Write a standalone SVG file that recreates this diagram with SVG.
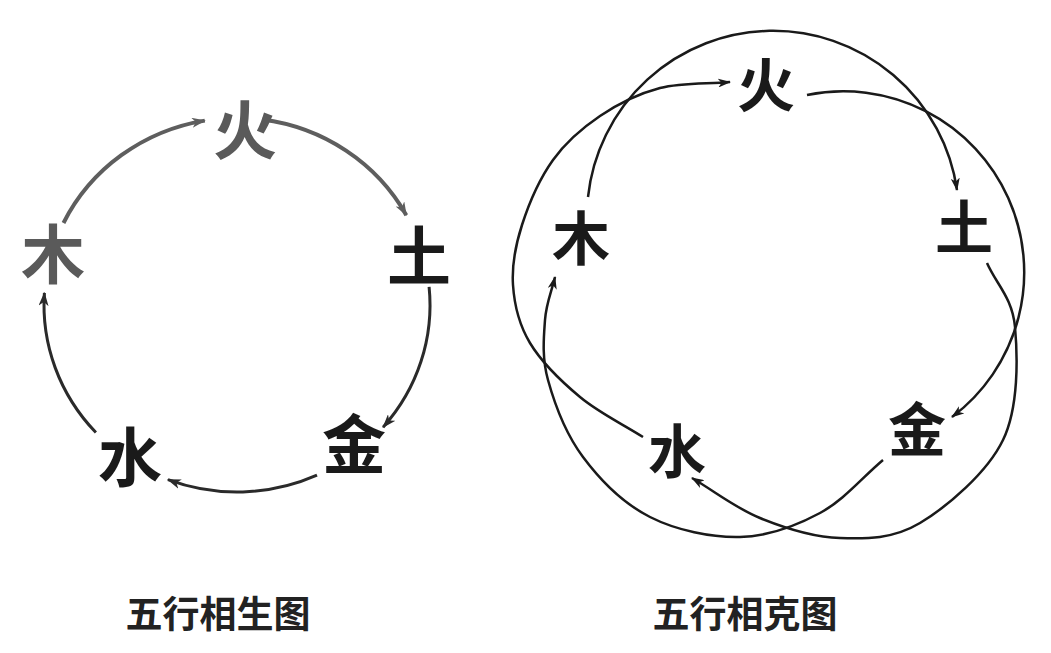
<svg xmlns="http://www.w3.org/2000/svg" width="1051" height="653" viewBox="0 0 1051 653">
<style>
.lbl{font-family:"Noto Sans CJK SC","Noto Sans CJK JP",sans-serif;font-weight:700;text-anchor:middle}
.big{font-size:64px}
.med{font-size:58px}
.title{font-family:"Noto Sans CJK SC","Noto Sans CJK JP",sans-serif;font-weight:700;font-size:37px;text-anchor:middle;fill:#222}
.gray{fill:#5a5a5a}
.dark{fill:#1a1a1a}
.c{fill:none;stroke-linecap:butt}
.cg{stroke:#5e5e5e;stroke-width:4}
.cd{stroke:#2a2a2a;stroke-width:3}
.cr{stroke:#1a1a1a;stroke-width:2.5}
</style>
<defs>
<marker id="ag" markerUnits="userSpaceOnUse" viewBox="0 0 14 10" refX="13" refY="5" markerWidth="14" markerHeight="10" orient="auto"><path d="M0,0 L14,5 L0,10 L4,5 z" fill="#5e5e5e"/></marker>
<marker id="ad" markerUnits="userSpaceOnUse" viewBox="0 0 14 10" refX="13" refY="5" markerWidth="14" markerHeight="10" orient="auto"><path d="M0,0 L14,5 L0,10 L4,5 z" fill="#2a2a2a"/></marker>
<marker id="ar" markerUnits="userSpaceOnUse" viewBox="0 0 13 9" refX="12" refY="4.5" markerWidth="13" markerHeight="9" orient="auto"><path d="M0,0 L13,4.5 L0,9 L3.5,4.5 z" fill="#1a1a1a"/></marker>
</defs>
<rect width="1051" height="653" fill="#ffffff"/>

<g id="connectors">
  <!-- 五行相生 -->
  <path id="sheng-mu-huo" class="c cg" marker-end="url(#ag)" d="M63.5,223 A193,187 0 0 1 204.8,120.6"/>
  <path id="sheng-huo-tu" class="c cg" marker-end="url(#ag)" d="M262.2,119.6 A193,187 0 0 1 406.3,215.2"/>
  <path id="sheng-tu-jin" class="c cd" marker-end="url(#ad)" d="M429.1,286.8 A193,187 0 0 1 383.1,427.2"/>
  <path id="sheng-jin-shui" class="c cd" marker-end="url(#ad)" d="M317,475.2 A193,187 0 0 1 167.9,479.6"/>
  <path id="sheng-shui-mu" class="c cd" marker-end="url(#ad)" d="M95.9,432.5 A193,187 0 0 1 44.4,292.9"/>
  <!-- 五行相克 -->
  <path id="ke-mu-tu" class="c cr" marker-end="url(#ar)" d="M588,197 A186,186 0 0 1 957,190"/>
  <path id="ke-huo-jin" class="c cr" marker-end="url(#ar)" d="M807,95 A181,181 0 0 1 952,417"/>
  <path id="ke-shui-huo" class="c cr" marker-end="url(#ar)" d="M643,437 C622,423.7 598.8,412.7 580,397 C561.2,381.3 541.2,361.7 530,343 C518.8,324.3 514.3,304.7 513,285 C511.7,265.3 515.3,245.8 522,225 C528.7,204.2 540,178.2 553,160 C566,141.8 582.2,128 600,116 C617.8,104 638.3,93.7 660,88 C681.7,82.3 706.7,84 730,82"/>
  <path id="ke-tu-shui" class="c cr" marker-end="url(#ar)" d="M987,263 C996.3,284.3 1012.3,297.5 1015,327 C1017.7,356.5 1018.8,407.3 1003,440 C987.2,472.7 947.2,506.7 920,523 C892.8,539.3 866.7,538.8 840,538 C813.3,537.2 784.7,528 760,518 C735.3,508 714.7,491.3 692,478"/>
  <path id="ke-jin-mu" class="c cr" marker-end="url(#ar)" d="M883,460 C862,477.7 843.8,500.2 820,513 C796.2,525.8 768.3,536.3 740,537 C711.7,537.7 676.2,530.3 650,517 C623.8,503.7 600,479.8 583,457 C566,434.2 554.3,402.8 548,380 C541.7,357.2 543.8,337.2 545,320 C546.2,302.8 551.7,291.3 555,277"/>
</g>

<g id="node-sheng-huo"><text class="lbl big gray" x="245" y="154">火</text></g>
<g id="node-sheng-tu"><text class="lbl big dark" x="419" y="280">土</text></g>
<g id="node-sheng-jin"><text class="lbl big dark" x="354" y="468">金</text></g>
<g id="node-sheng-shui"><text class="lbl big dark" x="130" y="481">水</text></g>
<g id="node-sheng-mu"><text class="lbl big gray" x="53" y="278">木</text></g>

<g id="node-ke-huo"><text class="lbl med dark" x="766" y="107">火</text></g>
<g id="node-ke-tu"><text class="lbl med dark" x="964" y="249">土</text></g>
<g id="node-ke-jin"><text class="lbl med dark" x="917" y="451">金</text></g>
<g id="node-ke-shui"><text class="lbl med dark" x="677" y="473">水</text></g>
<g id="node-ke-mu"><text class="lbl med dark" x="581" y="260">木</text></g>

<g id="title-sheng"><text class="title" x="218" y="628">五行相生图</text></g>
<g id="title-ke"><text class="title" x="745" y="628">五行相克图</text></g>
</svg>
